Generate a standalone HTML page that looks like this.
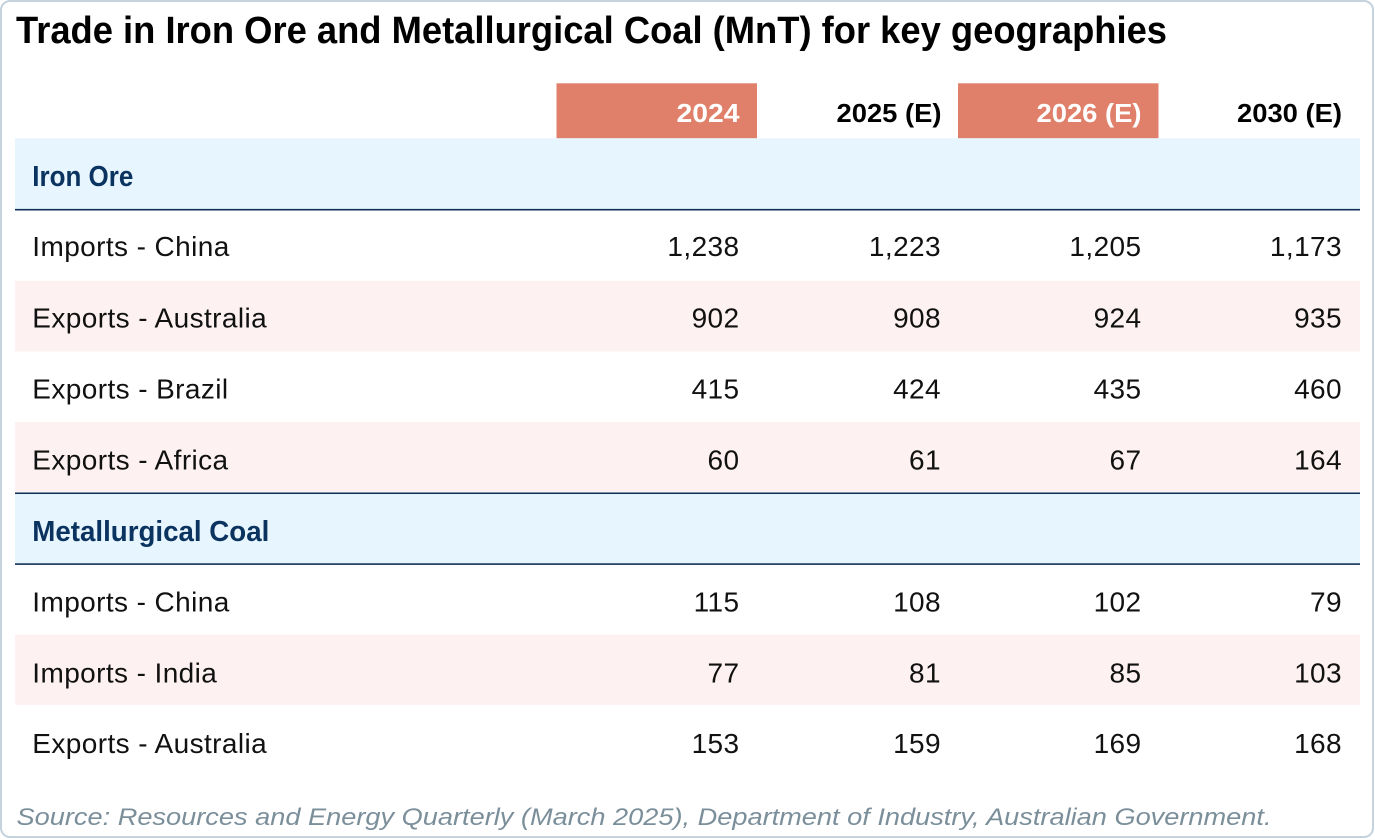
<!DOCTYPE html>
<html>
<head>
<meta charset="utf-8">
<style>
  html, body { margin: 0; padding: 0; background: #ffffff; }
  body { width: 1375px; height: 840px; overflow: hidden; }
  svg { display: block; }
  .t { font-family: "Liberation Sans", Arial, sans-serif; }
</style>
</head>
<body>
<svg width="1375" height="840" viewBox="0 0 1375 840" xmlns="http://www.w3.org/2000/svg">
  <!-- outer card -->
  <rect x="1" y="1" width="1372" height="836" rx="9" ry="9" fill="#ffffff" stroke="#c4d3de" stroke-width="2"/>

  <!-- title -->
  <text class="t" x="16" y="43" font-size="38" font-weight="bold" fill="#000000" textLength="1151" lengthAdjust="spacingAndGlyphs">Trade in Iron Ore and Metallurgical Coal (MnT) for key geographies</text>

  <!-- header boxes -->
  <rect x="556.5" y="83.3" width="200.5" height="55" fill="#e0806a"/>
  <rect x="958" y="83.3" width="200.5" height="55" fill="#e0806a"/>

  <text class="t" x="739.5" y="122" font-size="26" font-weight="bold" fill="#ffffff" text-anchor="end" textLength="63" lengthAdjust="spacingAndGlyphs">2024</text>
  <text class="t" x="941.5" y="122" font-size="26" font-weight="bold" fill="#000000" text-anchor="end" textLength="105" lengthAdjust="spacingAndGlyphs">2025 (E)</text>
  <text class="t" x="1141.5" y="122" font-size="26" font-weight="bold" fill="#ffffff" text-anchor="end" textLength="105" lengthAdjust="spacingAndGlyphs">2026 (E)</text>
  <text class="t" x="1342" y="122" font-size="26" font-weight="bold" fill="#000000" text-anchor="end" textLength="105" lengthAdjust="spacingAndGlyphs">2030 (E)</text>

  <!-- Iron Ore band -->
  <rect x="15" y="138.3" width="1345" height="70.7" fill="#e7f6fe"/>
  <rect x="15" y="208.9" width="1345" height="1.6" fill="#0e2f55"/>
  <text class="t" x="32.3" y="186" font-size="29" font-weight="bold" fill="#0b3360" textLength="101" lengthAdjust="spacingAndGlyphs">Iron Ore</text>

  <!-- pink rows -->
  <rect x="15" y="280.8" width="1345" height="70.7" fill="#fdf2f1"/>
  <rect x="15" y="422" width="1345" height="70.5" fill="#fdf2f1"/>

  <!-- Metallurgical band -->
  <rect x="15" y="492.5" width="1345" height="1.6" fill="#0e2f55"/>
  <rect x="15" y="494.1" width="1345" height="69.2" fill="#e7f6fe"/>
  <rect x="15" y="563.3" width="1345" height="1.6" fill="#0e2f55"/>
  <text class="t" x="32.3" y="541" font-size="29" font-weight="bold" fill="#0b3360" textLength="237" lengthAdjust="spacingAndGlyphs">Metallurgical Coal</text>

  <rect x="15" y="634.5" width="1345" height="70.5" fill="#fdf2f1"/>

  <!-- data rows -->
  <g class="t" font-size="28" fill="#111111" style="letter-spacing:0.4px">
    <!-- row 1 -->
    <text x="32.3" y="256">Imports - China</text>
    <text x="739.5" y="256" text-anchor="end">1,238</text>
    <text x="941" y="256" text-anchor="end">1,223</text>
    <text x="1141.5" y="256" text-anchor="end">1,205</text>
    <text x="1342" y="256" text-anchor="end">1,173</text>
    <!-- row 2 -->
    <text x="32.3" y="327.5">Exports - Australia</text>
    <text x="739.5" y="327.5" text-anchor="end">902</text>
    <text x="941" y="327.5" text-anchor="end">908</text>
    <text x="1141.5" y="327.5" text-anchor="end">924</text>
    <text x="1342" y="327.5" text-anchor="end">935</text>
    <!-- row 3 -->
    <text x="32.3" y="398.5">Exports - Brazil</text>
    <text x="739.5" y="398.5" text-anchor="end">415</text>
    <text x="941" y="398.5" text-anchor="end">424</text>
    <text x="1141.5" y="398.5" text-anchor="end">435</text>
    <text x="1342" y="398.5" text-anchor="end">460</text>
    <!-- row 4 -->
    <text x="32.3" y="469.5">Exports - Africa</text>
    <text x="739.5" y="469.5" text-anchor="end">60</text>
    <text x="941" y="469.5" text-anchor="end">61</text>
    <text x="1141.5" y="469.5" text-anchor="end">67</text>
    <text x="1342" y="469.5" text-anchor="end">164</text>
    <!-- row 5 -->
    <text x="32.3" y="611.5">Imports - China</text>
    <text x="739.5" y="611.5" text-anchor="end">115</text>
    <text x="941" y="611.5" text-anchor="end">108</text>
    <text x="1141.5" y="611.5" text-anchor="end">102</text>
    <text x="1342" y="611.5" text-anchor="end">79</text>
    <!-- row 6 -->
    <text x="32.3" y="682.5">Imports - India</text>
    <text x="739.5" y="682.5" text-anchor="end">77</text>
    <text x="941" y="682.5" text-anchor="end">81</text>
    <text x="1141.5" y="682.5" text-anchor="end">85</text>
    <text x="1342" y="682.5" text-anchor="end">103</text>
    <!-- row 7 -->
    <text x="32.3" y="753">Exports - Australia</text>
    <text x="739.5" y="753" text-anchor="end">153</text>
    <text x="941" y="753" text-anchor="end">159</text>
    <text x="1141.5" y="753" text-anchor="end">169</text>
    <text x="1342" y="753" text-anchor="end">168</text>
  </g>

  <!-- source -->
  <text class="t" x="16.5" y="825" font-size="24" font-style="italic" fill="#7b8f9b" textLength="1255" lengthAdjust="spacingAndGlyphs">Source: Resources and Energy Quarterly (March 2025), Department of Industry, Australian Government.</text>
</svg>
</body>
</html>
